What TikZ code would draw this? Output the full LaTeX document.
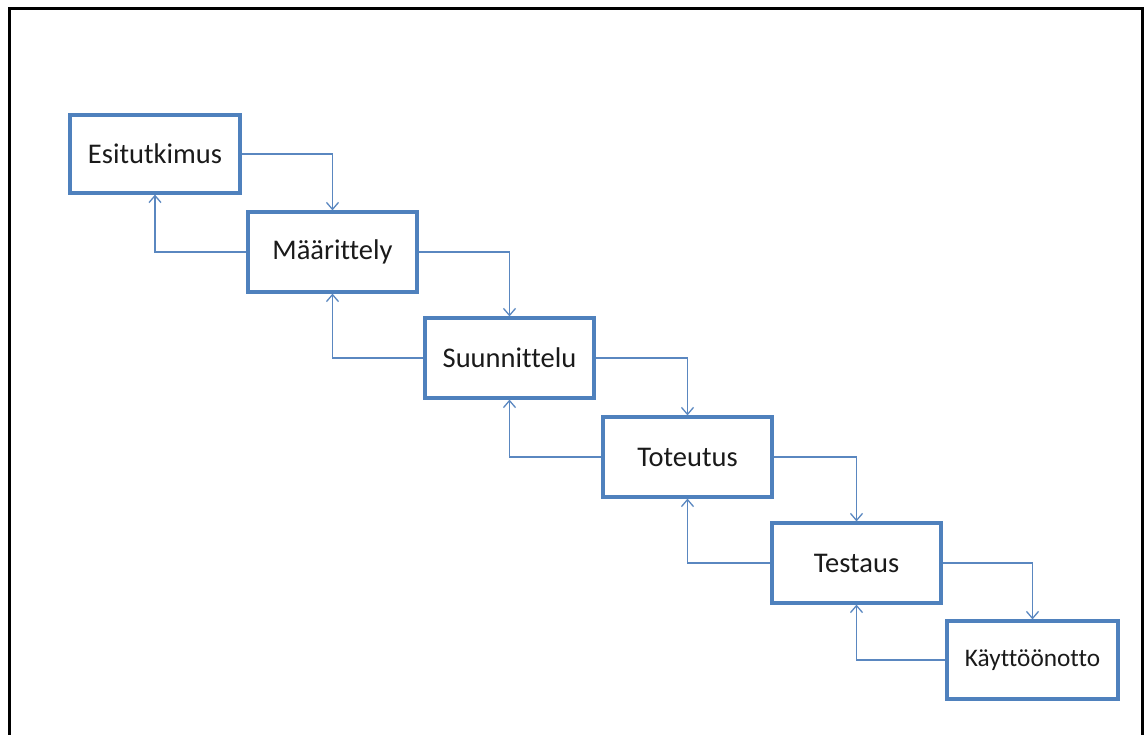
\documentclass[tikz,border=0pt]{standalone}
\usepackage{fontspec}
\setmainfont{Carlito}[Ligatures=NoCommon]
\usetikzlibrary{arrows.meta}
\definecolor{boxblue}{HTML}{4F81BD}
\definecolor{linkblue}{HTML}{5A87C0}
\definecolor{ink}{HTML}{1A1A1A}
\tikzset{
  phase/.style={draw=boxblue, line width=3.2pt, fill=white, text=ink,
    minimum width=169pt, minimum height=80pt, inner sep=0pt,
    font=\fontsize{28.5}{32}\selectfont},
  link/.style={draw=linkblue, line width=1.3pt,
    -{Straight Barb[length=7pt,width=12pt]}}
}
\begin{document}
\begin{tikzpicture}[x=1pt, y=-1pt]
  \useasboundingbox (0,0) rectangle (1145,735);
  % outer frame, open at the bottom edge
  \draw[line width=3pt, black] (9.5,740) -- (9.5,8.5) -- (1142.5,8.5) -- (1142.5,740);

  % phases of the waterfall
  \node[phase, minimum width=170pt, minimum height=78pt] (esi) at (155,154) {Esitutkimus};
  \node[phase] (maa) at (332.5,252) {Määrittely};
  \node[phase] (suu) at (509.5,358) {Suunnittelu};
  \node[phase] (tot) at (687.5,457) {Toteutus};
  \node[phase] (tes) at (856.5,563) {Testaus};
  \node[phase, minimum width=171pt, minimum height=78pt,
        font=\fontsize{25.3}{29}\selectfont] (kay) at (1032.5,660) {Käyttöönotto};

  % forward steps
  \draw[link] (esi.east) -| (maa.north);
  \draw[link] (maa.east) -| (suu.north);
  \draw[link] (suu.east) -| (tot.north);
  \draw[link] (tot.east) -| (tes.north);
  \draw[link] (tes.east) -| (kay.north);

  % feedback steps
  \draw[link] (maa.west) -| (esi.south);
  \draw[link] (suu.west) -| (maa.south);
  \draw[link] (tot.west) -| (suu.south);
  \draw[link] (tes.west) -| (tot.south);
  \draw[link] (kay.west) -| (tes.south);
\end{tikzpicture}
\end{document}
